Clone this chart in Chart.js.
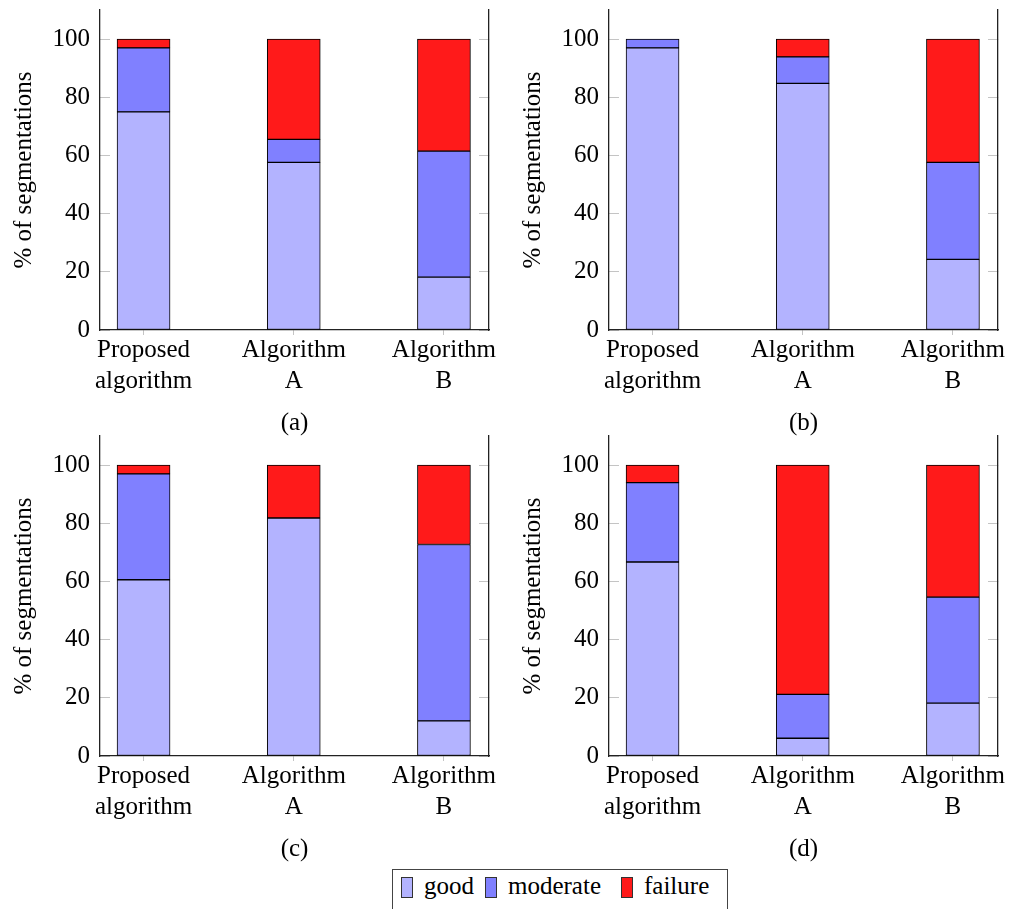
<!DOCTYPE html>
<html lang="en">
<head>
    <meta charset="UTF-8">
    <title>Segmentation results</title>
    <script src="https://cdn.jsdelivr.net/npm/chart.js"></script>
    <style>
        html, body { margin: 0; padding: 0; background: #fff; overflow: hidden; }
        body { width: 1012px; height: 909px; position: relative; font-family: "Liberation Serif", "DejaVu Serif", "Times New Roman", serif; }
        canvas { position: absolute; }
        #legend {
            position: absolute; left: 392px; top: 869px; width: 336px; height: 60px;
            border: 1.3px solid #444; box-sizing: border-box;
            display: flex; align-items: flex-start; padding: 6px 0 0 8px;
            font-size: 25px; color: #000;
        }
        #legend .item { display: flex; align-items: flex-end; margin-right: 7px; height: 22px; }
        #legend .box { width: 10px; height: 19px; border: 1px solid #333; margin-right: 11px; }
        #legend .txt { line-height: 22px; position: relative; top: -1px; }
        /* spread the labels like the original legend */
        #legend .item:nth-child(1) .txt { width: 54px; }
        #legend .item:nth-child(2) .txt { width: 106px; }
        #legend .item:nth-child(3) .txt { width: 71px; }
    </style>
</head>
<body>
    <canvas id="chartA" width="510" height="440" style="left:0px;top:0px"></canvas>
    <canvas id="chartB" width="510" height="440" style="left:509px;top:0px"></canvas>
    <canvas id="chartC" width="510" height="440" style="left:0px;top:426px"></canvas>
    <canvas id="chartD" width="510" height="440" style="left:509px;top:426px"></canvas>
    <div id="legend"></div>

    <script>
        // categories (two-line tick labels) and series
        const categories = [['Proposed', 'algorithm'], ['Algorithm', 'A'], ['Algorithm', 'B']];
        const seriesNames = ['good', 'moderate', 'failure'];
        const yTicks = [0, 20, 40, 60, 80, 100];
        const yTitle = '% of segmentations';

        // (a)
        const goodA = [75, 57.6, 18.2];
        const moderateA = [22, 7.9, 43.3];
        const failureA = [3, 34.5, 38.5];
        // (b)
        const goodB = [97, 84.8, 24.3];
        const moderateB = [3, 9.1, 33.3];
        const failureB = [0, 6.1, 42.4];
        // (c)
        const goodC = [60.6, 81.8, 12.1];
        const moderateC = [36.4, 0, 60.6];
        const failureC = [3, 18.2, 27.3];
        // (d)
        const goodD = [66.7, 6.1, 18.2];
        const moderateD = [27.3, 15.1, 36.4];
        const failureD = [6, 78.8, 45.4];

        const colors = ['#b3b3ff', '#8080ff', '#ff1a1a'];
        const font = { family: '"Liberation Serif", "DejaVu Serif", "Times New Roman", serif', size: 25, lineHeight: 1.25 };
        const axisColor = '#222';
        const tickGray = '#c4c4c4';

        function zeroPad(scale) {
            scale.paddingLeft = 0; scale.paddingRight = 0;
            scale.paddingTop = 0; scale.paddingBottom = 0;
        }

        function makeChart(id, caption, good, moderate, failure) {
            const series = [good, moderate, failure];
            const datasets = series.map((vals, s) => ({
                label: seriesNames[s],
                data: vals.map((v, i) => ({ x: i, y: v })),
                backgroundColor: colors[s],
                borderColor: '#000',
                borderWidth: 1,
                borderSkipped: false,
                barThickness: 53
            }));

            new Chart(document.getElementById(id), {
                type: 'bar',
                data: { datasets },
                options: {
                    responsive: false,
                    animation: false,
                    layout: { padding: { top: 10, right: 21, left: 0, bottom: 0 } },
                    plugins: { legend: { display: false }, tooltip: { enabled: false } },
                    scales: {
                        x: {
                            type: 'linear', stacked: true, min: -0.29, max: 2.3, offset: false,
                            afterBuildTicks: s => { s.ticks = categories.map((c, i) => ({ value: i })); },
                            afterFit: s => { s.height = 110; zeroPad(s); },
                            ticks: { font, color: '#000', padding: 0, maxRotation: 0, autoSkip: false,
                                     callback: v => categories[v] },
                            grid: { offset: false, drawOnChartArea: false, drawTicks: true, tickLength: 5, color: tickGray, tickColor: tickGray },
                            border: { color: axisColor, width: 1.3 },
                            title: { display: true, text: caption, font, color: '#000', padding: { top: 0, bottom: 1 } }
                        },
                        y: {
                            stacked: true, min: 0, max: 110,
                            afterBuildTicks: s => { s.ticks = yTicks.map(v => ({ value: v })); },
                            afterFit: s => { s.width = 100; zeroPad(s); },
                            ticks: { font, color: '#000', padding: 20 },
                            grid: { drawOnChartArea: false, drawTicks: true, tickLength: -10, color: tickGray, tickColor: tickGray },
                            border: { color: axisColor, width: 1.3 },
                            title: { display: true, text: yTitle, font, color: '#000', padding: { top: 9, bottom: 0 } }
                        },
                        y2: {
                            position: 'right', min: 0, max: 110,
                            afterBuildTicks: s => { s.ticks = yTicks.map(v => ({ value: v })); },
                            afterFit: s => { s.width = 0; zeroPad(s); },
                            ticks: { display: false },
                            grid: { drawOnChartArea: false, drawTicks: true, tickLength: -10, color: tickGray, tickColor: tickGray },
                            border: { color: axisColor, width: 1.3 }
                        }
                    }
                }
            });
        }

        makeChart('chartA', '(a)', goodA, moderateA, failureA);
        makeChart('chartB', '(b)', goodB, moderateB, failureB);
        makeChart('chartC', '(c)', goodC, moderateC, failureC);
        makeChart('chartD', '(d)', goodD, moderateD, failureD);

        // shared legend below the panels
        const legend = document.getElementById('legend');
        seriesNames.forEach((name, s) => {
            const item = document.createElement('span');
            item.className = 'item';
            item.innerHTML = '<span class="box" style="background:' + colors[s] + '"></span><span class="txt">' + name + '</span>';
            legend.appendChild(item);
        });
    </script>
</body>
</html>
